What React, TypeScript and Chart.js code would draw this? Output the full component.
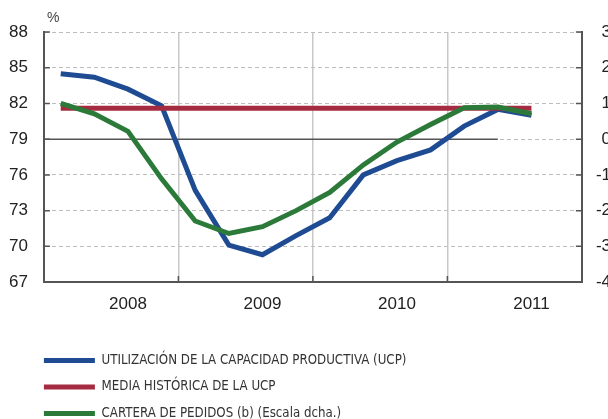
import React, { useEffect, useRef } from 'react';
import { Chart, registerables } from 'chart.js';
Chart.register(...registerables);

// quarters 2008Q1 .. 2011Q3 as positions 0..14
const QUARTER_POS = [0, 1, 2, 3, 4, 5, 6, 7, 8, 9, 10, 11, 12, 13, 14];
const UCP = [84.5, 84.2, 83.2, 81.8, 74.7, 70.1, 69.3, 70.9, 72.4, 76.0, 77.2, 78.1, 80.1, 81.5, 81.0];
const UCP_MEAN = [81.6, 81.6, 81.6, 81.6, 81.6, 81.6, 81.6, 81.6, 81.6, 81.6, 81.6, 81.6, 81.6, 81.6, 81.6];
const PEDIDOS = [1.0, 0.71, 0.22, -1.11, -2.29, -2.64, -2.45, -2.0, -1.49, -0.72, -0.08, 0.41, 0.88, 0.9, 0.71];
const ZERO_LINE_X = [-0.5, 13];
const ZERO_LINE_Y = [0, 0];

const YEAR_TICKS = [2, 6, 10, 14];
const YEAR_LABELS = ['2008', '2009', '2010', '2011'];
const YEAR_BOUNDARIES = [3.5, 7.5, 11.5];
const LEFT_TICKS = [67, 70, 73, 76, 79, 82, 85, 88];
const RIGHT_TICKS = [-4, -3, -2, -1, 0, 1, 2, 3];

const SERIES_LABELS = [
  'UTILIZACIÓN DE LA CAPACIDAD PRODUCTIVA (UCP)',
  'MEDIA HISTÓRICA DE LA UCP',
  'CARTERA DE PEDIDOS (b) (Escala dcha.)',
];

const BLUE = '#1f4b92';
const RED = '#a52c40';
const GREEN = '#2c7a3a';
const AXIS = '#555555';
const FONT = '"Liberation Sans", Arial, sans-serif';
const LEGEND_FONT = '"Liberation Sans Narrow", "DejaVu Sans Condensed", "Liberation Sans", sans-serif';

const CANVAS_SHIFT = 20;
const LEGEND_DX = -13.3;
const LEGEND_DY = 14;

const pts = (xs: number[], ys: number[]) => xs.map((x, i) => ({ x, y: ys[i] }));

const innerTicks = {
  id: 'innerTicks',
  afterDraw(chart: any) {
    const { ctx, chartArea } = chart;
    const { left, right, bottom, top } = chartArea;
    const sy = chart.scales.y;
    const sy2 = chart.scales.y2;
    const sxg = chart.scales.xg;
    ctx.save();
    ctx.strokeStyle = AXIS;
    ctx.lineWidth = 1.5;
    ctx.beginPath();
    sy.ticks.forEach((t: any) => {
      const p = sy.getPixelForValue(t.value);
      ctx.moveTo(left, p);
      ctx.lineTo(left + 6, p);
    });
    sy2.ticks.forEach((t: any) => {
      const p = sy2.getPixelForValue(t.value);
      ctx.moveTo(right - 6, p);
      ctx.lineTo(right, p);
    });
    sxg.ticks.forEach((t: any) => {
      const p = sxg.getPixelForValue(t.value);
      ctx.moveTo(p, bottom);
      ctx.lineTo(p, bottom - 6);
    });
    ctx.stroke();
    // unit label
    ctx.fillStyle = '#444';
    ctx.font = '14px ' + FONT;
    ctx.textBaseline = 'middle';
    ctx.textAlign = 'left';
    ctx.fillText('%', left + 3, top - 14);
    ctx.restore();
  },
};

const legendShift = {
  id: 'legendShift',
  afterLayout(chart: any) {
    const l = chart.legend;
    if (!l) return;
    l.left += LEGEND_DX;
    l.right += LEGEND_DX;
    l.top += LEGEND_DY;
    l.bottom += LEGEND_DY;
  },
};

export default function App() {
  const ref = useRef<HTMLCanvasElement | null>(null);
  useEffect(() => {
    if (!ref.current) return;
    const colors = [BLUE, RED, GREEN];
    const chart = new Chart(ref.current, {
      type: 'line',
      data: {
        datasets: [
          {
            label: SERIES_LABELS[0],
            data: pts(QUARTER_POS, UCP),
            borderColor: BLUE,
            backgroundColor: BLUE,
            borderWidth: 5,
            pointRadius: 0,
            yAxisID: 'y',
            xAxisID: 'x',
            order: 3,
          },
          {
            label: SERIES_LABELS[1],
            data: pts(QUARTER_POS, UCP_MEAN),
            borderColor: RED,
            backgroundColor: RED,
            borderWidth: 5,
            pointRadius: 0,
            yAxisID: 'y',
            xAxisID: 'x',
            order: 2,
          },
          {
            label: SERIES_LABELS[2],
            data: pts(QUARTER_POS, PEDIDOS),
            borderColor: GREEN,
            backgroundColor: GREEN,
            borderWidth: 5,
            pointRadius: 0,
            yAxisID: 'y2',
            xAxisID: 'x',
            order: 1,
          },
          {
            label: 'zero',
            data: pts(ZERO_LINE_X, ZERO_LINE_Y),
            borderColor: AXIS,
            backgroundColor: AXIS,
            borderWidth: 1.5,
            pointRadius: 0,
            yAxisID: 'y2',
            xAxisID: 'x',
            order: 4,
          },
        ],
      },
      options: {
        responsive: false,
        animation: false,
        events: [],
        layout: { padding: { left: 13, right: 29, top: 32, bottom: 3 } },
        plugins: {
          tooltip: { enabled: false },
          title: { display: false },
          legend: {
            position: 'bottom',
            align: 'start',
            fullSize: false,
            labels: {
              boxWidth: 51,
              boxHeight: 5,
              padding: 13.3,
              color: '#333',
              font: { family: LEGEND_FONT, size: 13.2 },
              generateLabels: () =>
                SERIES_LABELS.map((t, i) => ({
                  text: t,
                  fillStyle: colors[i],
                  strokeStyle: colors[i],
                  lineWidth: 0,
                  hidden: false,
                  datasetIndex: i,
                  fontColor: '#333',
                })),
            },
          },
        },
        scales: {
          x: {
            type: 'linear',
            position: 'bottom',
            min: -0.5,
            max: 15.5,
            afterBuildTicks: (s: any) => {
              s.ticks = YEAR_TICKS.map((v) => ({ value: v }));
            },
            ticks: {
              padding: 12,
              color: '#222',
              font: { family: FONT, size: 17 },
              maxRotation: 0,
              autoSkip: false,
              callback: (v: any) => {
                const i = YEAR_TICKS.indexOf(Number(v));
                return i >= 0 ? YEAR_LABELS[i] : '';
              },
            },
            grid: { display: false, drawTicks: false },
            border: { display: true, color: AXIS, width: 2 },
          },
          xg: {
            type: 'linear',
            position: 'top',
            min: -0.5,
            max: 15.5,
            afterBuildTicks: (s: any) => {
              s.ticks = YEAR_BOUNDARIES.map((v) => ({ value: v }));
            },
            ticks: { display: false },
            grid: { display: true, drawTicks: false, color: '#c8c8c8', lineWidth: 1.5 },
            border: { display: false },
          },
          y: {
            type: 'linear',
            position: 'left',
            min: 67,
            max: 88,
            afterBuildTicks: (s: any) => {
              s.ticks = LEFT_TICKS.map((v) => ({ value: v }));
            },
            ticks: {
              padding: 16,
              color: '#222',
              font: { family: FONT, size: 17 },
            },
            grid: { display: true, drawTicks: false, color: '#bdbdbd', lineWidth: 1 },
            border: { display: true, color: AXIS, width: 2, dash: [4, 3] },
          },
          y2: {
            type: 'linear',
            position: 'right',
            min: -4,
            max: 3,
            afterBuildTicks: (s: any) => {
              s.ticks = RIGHT_TICKS.map((v) => ({ value: v }));
            },
            ticks: {
              padding: 7,
              crossAlign: 'far',
              color: '#222',
              font: { family: FONT, size: 17 },
            },
            grid: { display: false, drawTicks: false },
            border: { display: true, color: AXIS, width: 2 },
          },
        },
      },
      plugins: [innerTicks, legendShift],
    } as any);
    return () => chart.destroy();
  }, []);
  return (
    <div style={{ position: 'absolute', left: 0, top: 0, width: 608, height: 419, overflow: 'hidden', background: '#fff' }}>
      <canvas
        ref={ref}
        width={660}
        height={419}
        style={{ position: 'absolute', left: -CANVAS_SHIFT, top: 0 }}
      />
    </div>
  );
}
